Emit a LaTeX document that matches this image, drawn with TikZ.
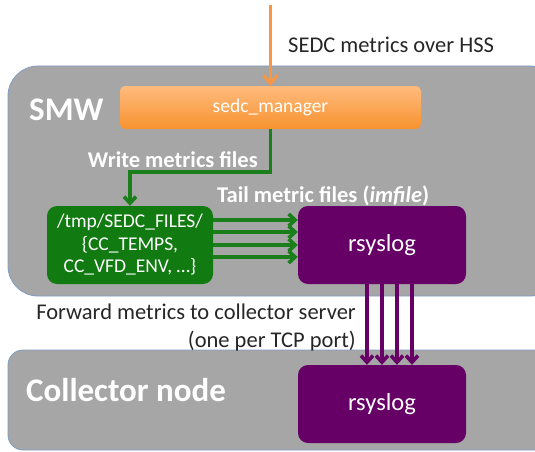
\documentclass[tikz,border=0pt]{standalone}
\usepackage{fontspec}
\setmainfont{Carlito}
\usetikzlibrary{arrows.meta,positioning,calc}
\definecolor{boxgrey}{HTML}{A6A6A6}
\definecolor{boxedge}{HTML}{7F9DC6}
\definecolor{hssorange}{HTML}{F79646}
\definecolor{mgrtop}{HTML}{FFBB7D}
\definecolor{mgrbot}{HTML}{F7922F}
\definecolor{filegreen}{HTML}{117A11}
\definecolor{arrgreen}{HTML}{1A7F1A}
\definecolor{logpurple}{HTML}{660066}

\begin{document}
\begin{tikzpicture}[x=1pt, y=-1pt,
    area/.style={draw=boxedge, fill=boxgrey, line width=0.8pt, minimum width=552pt},
    title/.style={inner sep=0pt, text=white, font=\fontsize{33}{38}\selectfont\bfseries},
    wlbl/.style={inner sep=0pt, text=white, font=\fontsize{22.5}{26}\selectfont\bfseries},
    lbl/.style={inner sep=0pt, text=black!85, font=\fontsize{22.5}{28}\selectfont},
    logbox/.style={fill=logpurple, rounded corners=10pt, minimum width=168pt, minimum height=78pt,
        text=white, font=\fontsize{24.5}{28}\selectfont},
    hssarrow/.style={draw=hssorange, line width=3.2pt, -{Straight Barb[length=8pt,width=14pt]}},
    greenarrow/.style={draw=arrgreen, line width=3.6pt, -{Straight Barb[length=6.5pt,width=12pt]}},
    purplearrow/.style={draw=logpurple, line width=3.6pt, -{Straight Barb[length=6.5pt,width=12pt]}}
]
\useasboundingbox (0,0) rectangle (535,452);
\clip (0,0) rectangle (535,452);
\node[area, rounded corners=30pt, minimum height=230pt] (smw) at (284,181) {};
\node[area, rounded corners=15pt, minimum height=100pt] (collector) at (284,400) {};

\node[rounded corners=5pt, top color=mgrtop, bottom color=mgrbot, minimum width=301pt, minimum height=43pt,
    text=white, font=\fontsize{19.5}{22}\selectfont] (mgr) at (270.5,107.5) {sedc\_manager};
\node[fill=filegreen, rounded corners=10pt, minimum width=166pt, minimum height=78pt, inner sep=0pt,
    align=center, text=white, font=\fontsize{19.5}{22.5}\selectfont] (files) at (130,245)
    {/tmp/SEDC\_FILES/\\\{CC\_TEMPS,\\CC\_VFD\_ENV, \ldots\}};
\node[logbox] (rsyslogA) at (382,245) {rsyslog};
\node[logbox] (rsyslogB) at (382,404) {rsyslog};

\node[title, anchor=west] (smwlbl) at (29,110) {SMW};
\node[title, anchor=west] (colllbl) at (26,390) {Collector node};
\node[lbl, anchor=west] (hsslbl) at (288,45) {SEDC metrics over HSS};
\node[wlbl, anchor=east] (writelbl) at (258,160) {Write metrics files};
\node[wlbl, anchor=west] (taillbl) at (217,196) {Tail metric files (\textit{imfile})};
\node[lbl, anchor=east, align=right] (fwdlbl) at (356,327) {Forward metrics to collector server\\(one per TCP port)};

\coordinate (hss) at (270.5,5);
\draw[hssarrow] (hss) -- (mgr.north);
\draw[greenarrow] (mgr.south) -- ++(0,43) -| (files.north);
\foreach \y in {220,232,245,257}
    \draw[greenarrow] (files.east |- 0,\y) -- (rsyslogA.west |- 0,\y);
\foreach \x in {367,382,397,412}
    \draw[purplearrow] (rsyslogA.south -| \x,0) -- (rsyslogB.north -| \x,0);
\end{tikzpicture}
\end{document}
